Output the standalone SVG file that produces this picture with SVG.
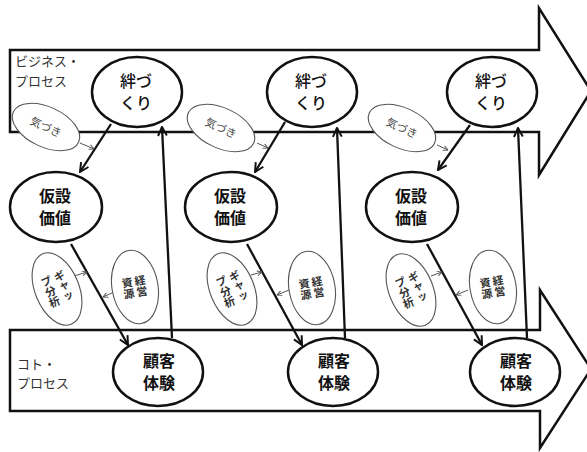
<svg xmlns="http://www.w3.org/2000/svg" width="587" height="452" viewBox="0 0 587 452">
<defs>
<style>
.band{fill:#fff;stroke:#111;stroke-width:2.5;stroke-linejoin:miter}
.big{fill:#fff;stroke:#111;stroke-width:2.5}
.sm{fill:#fff;stroke:#555;stroke-width:1.1}
.con{fill:none;stroke:#111;stroke-width:2.3}
.scon{fill:none;stroke:#555;stroke-width:1}
.lbl{font-family:"Noto Sans CJK JP","Noto Sans",sans-serif;font-size:13px;fill:#333}
.t1{font-family:"Noto Sans CJK JP","Noto Sans",sans-serif;font-size:16px;fill:#111;text-anchor:middle;font-weight:500}
.t2{font-family:"Noto Sans CJK JP","Noto Sans",sans-serif;font-size:16px;fill:#111;text-anchor:middle;font-weight:700}
.ts{font-family:"Noto Sans CJK JP","Noto Sans",sans-serif;font-size:11px;fill:#444;text-anchor:middle}
.tv{font-family:"Noto Sans CJK JP","Noto Sans",sans-serif;font-size:11px;fill:#333;font-weight:700;writing-mode:vertical-rl;text-anchor:middle}
</style>
<marker id="ah" viewBox="0 0 10 10" refX="9" refY="5" markerWidth="11" markerHeight="11" markerUnits="userSpaceOnUse" orient="auto">
<path d="M1,1 L9,5 L1,9" fill="none" stroke="#111" stroke-width="1.8"/>
</marker>
<marker id="sh" viewBox="0 0 10 10" refX="9" refY="5" markerWidth="6" markerHeight="6" markerUnits="userSpaceOnUse" orient="auto">
<path d="M1,1 L9,5 L1,9" fill="none" stroke="#555" stroke-width="1.6"/>
</marker>
</defs>

<g id="business-process">
<path class="band" d="M10,50 H539 V8 L591,91 L539,175 V132 H10 Z"/>
<text class="lbl" x="15" y="66">ビジネス・</text>
<text class="lbl" x="15" y="86">プロセス</text>
</g>
<g id="koto-process">
<path class="band" d="M10,330 H540 V290 L591,369 L540,448 V411 H10 Z"/>
<text class="lbl" x="17" y="369">コト・</text>
<text class="lbl" x="17" y="388">プロセス</text>
</g>

<g id="connectors">
<path class="con" d="M111,124 L80,172" marker-end="url(#ah)"/>
<path class="con" d="M71,244 L128,345" marker-end="url(#ah)"/>
<path class="con" d="M172,338 L162,127" marker-end="url(#ah)"/>
<path class="scon" d="M80,143 L94,149" marker-end="url(#sh)"/>
<path class="scon" d="M74,276 L87,272" marker-end="url(#sh)"/>
<path class="scon" d="M114,292 L103,297" marker-end="url(#sh)"/>

<path class="con" d="M285,122 L255,172" marker-end="url(#ah)"/>
<path class="con" d="M247,244 L302,345" marker-end="url(#ah)"/>
<path class="con" d="M345,338 L337,128" marker-end="url(#ah)"/>
<path class="scon" d="M257,143 L268,148" marker-end="url(#sh)"/>
<path class="scon" d="M251,275 L262,272" marker-end="url(#sh)"/>
<path class="scon" d="M289,290 L277,295" marker-end="url(#sh)"/>

<path class="con" d="M470,125 L438,170" marker-end="url(#ah)"/>
<path class="con" d="M427,244 L482,345" marker-end="url(#ah)"/>
<path class="con" d="M527,338 L518,128" marker-end="url(#ah)"/>
<path class="scon" d="M437,145 L448,150" marker-end="url(#sh)"/>
<path class="scon" d="M431,276 L442,272" marker-end="url(#sh)"/>
<path class="scon" d="M468,290 L456,295" marker-end="url(#sh)"/>
</g>

<g id="kizuna1"><ellipse class="big" cx="137" cy="92" rx="45" ry="35"/><text class="t1" x="136" y="87">絆づ</text><text class="t1" x="136" y="109">くり</text></g>
<g id="kizuna2"><ellipse class="big" cx="312" cy="92" rx="45" ry="35"/><text class="t1" x="311" y="87">絆づ</text><text class="t1" x="311" y="109">くり</text></g>
<g id="kizuna3"><ellipse class="big" cx="492" cy="92" rx="45" ry="35"/><text class="t1" x="491" y="87">絆づ</text><text class="t1" x="491" y="109">くり</text></g>

<g id="kasetsu1"><ellipse class="big" cx="56" cy="207" rx="46" ry="35"/><text class="t2" x="55" y="202">仮設</text><text class="t2" x="55" y="224">価値</text></g>
<g id="kasetsu2"><ellipse class="big" cx="231" cy="207" rx="46" ry="35"/><text class="t2" x="230" y="202">仮設</text><text class="t2" x="230" y="224">価値</text></g>
<g id="kasetsu3"><ellipse class="big" cx="412" cy="207" rx="46" ry="35"/><text class="t2" x="411" y="202">仮設</text><text class="t2" x="411" y="224">価値</text></g>

<g id="kokyaku1"><ellipse class="big" cx="158" cy="372" rx="45" ry="34"/><text class="t2" x="159" y="367">顧客</text><text class="t2" x="159" y="389">体験</text></g>
<g id="kokyaku2"><ellipse class="big" cx="333" cy="372" rx="45" ry="34"/><text class="t2" x="334" y="367">顧客</text><text class="t2" x="334" y="389">体験</text></g>
<g id="kokyaku3"><ellipse class="big" cx="515" cy="372" rx="45" ry="34"/><text class="t2" x="516" y="367">顧客</text><text class="t2" x="516" y="389">体験</text></g>

<g id="kizuki1" transform="translate(46,127) rotate(25)"><ellipse class="sm" rx="36" ry="20"/><text class="ts" x="0" y="4">気づき</text></g>
<g id="kizuki2" transform="translate(221,128) rotate(25)"><ellipse class="sm" rx="36" ry="20"/><text class="ts" x="0" y="4">気づき</text></g>
<g id="kizuki3" transform="translate(402,128) rotate(25)"><ellipse class="sm" rx="36" ry="20"/><text class="ts" x="0" y="4">気づき</text></g>

<g id="gap1" transform="translate(57,289) rotate(-22)"><ellipse class="sm" rx="22" ry="38"/><text class="tv" x="7" y="0">ギャッ</text><text class="tv" x="-7" y="0">プ分析</text></g>
<g id="gap2" transform="translate(232,289) rotate(-22)"><ellipse class="sm" rx="22" ry="38"/><text class="tv" x="7" y="0">ギャッ</text><text class="tv" x="-7" y="0">プ分析</text></g>
<g id="gap3" transform="translate(411,290) rotate(-22)"><ellipse class="sm" rx="22" ry="38"/><text class="tv" x="7" y="0">ギャッ</text><text class="tv" x="-7" y="0">プ分析</text></g>

<g id="keiei1" transform="translate(135,287) rotate(-10)"><ellipse class="sm" rx="23" ry="37"/><text class="tv" x="6" y="0">経営</text><text class="tv" x="-7" y="0">資源</text></g>
<g id="keiei2" transform="translate(312,288) rotate(-10)"><ellipse class="sm" rx="23" ry="37"/><text class="tv" x="6" y="0">経営</text><text class="tv" x="-7" y="0">資源</text></g>
<g id="keiei3" transform="translate(493,287) rotate(-10)"><ellipse class="sm" rx="23" ry="37"/><text class="tv" x="6" y="0">経営</text><text class="tv" x="-7" y="0">資源</text></g>
</svg>
